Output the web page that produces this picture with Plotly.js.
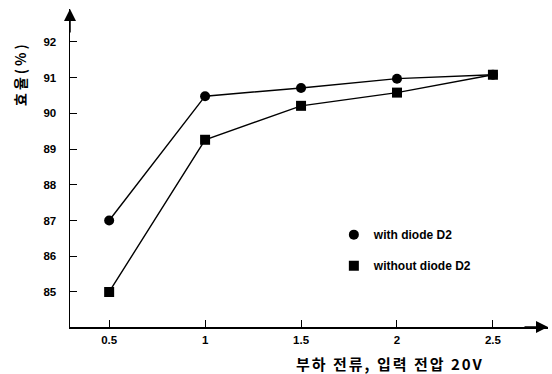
<!DOCTYPE html>
<html><head><meta charset="utf-8">
<script src="https://cdn.plot.ly/plotly-3.0.1.min.js"></script>
<style>body{margin:0;background:#fff}#c{width:552px;height:374px}</style>
</head><body><div id="c"></div>
<script>
const current = [0.5, 1, 1.5, 2, 2.5];
const withDiode = [87.0, 90.48, 90.71, 90.97, 91.08];
const withoutDiode = [85.0, 89.26, 90.21, 90.58, 91.08];
const yTicks = [85, 86, 87, 88, 89, 90, 91, 92];
const xTicks = [0.5, 1, 1.5, 2, 2.5];
const seriesNames = ['with diode D2', 'without diode D2'];
const xTitle = '부하 전류, 입력 전압 20V';
const yTitle = '효율(%)';

const tickFont = {family: 'Liberation Sans, Arial, sans-serif', size: 11.5, color: '#000', weight: 'bold'};
const legFont = {family: 'Liberation Sans, Arial, sans-serif', size: 12, color: '#000', weight: 'bold'};
const traces = [
  {x: current, y: withDiode, mode: 'lines', line: {color: '#000', width: 1.4}, showlegend: false, hoverinfo: 'skip'},
  {x: current, y: withoutDiode, mode: 'lines', line: {color: '#000', width: 1.4}, showlegend: false, hoverinfo: 'skip'},
  {x: current, y: withDiode, mode: 'markers', name: seriesNames[0], legendgroup: 'a',
   marker: {symbol: 'circle', size: 10, color: '#000'}},
  {x: current, y: withoutDiode, mode: 'markers', name: seriesNames[1], legendgroup: 'b',
   marker: {symbol: 'square', size: 10, color: '#000'}}
];
const layout = {
  width: 552, height: 374,
  margin: {l: 70, r: 4, t: 9, b: 47},
  paper_bgcolor: '#fff', plot_bgcolor: '#fff',
  showlegend: true,
  legend: {x: 0.552, y: 0.336, xanchor: 'left', yanchor: 'top', font: legFont, tracegroupgap: 12, bgcolor: 'rgba(0,0,0,0)'},
  xaxis: {range: [0.296, 2.787], tickvals: xTicks, ticktext: xTicks.map(String), ticks: 'inside', ticklen: 7,
          tickcolor: '#000', showgrid: false, zeroline: false, showline: true, linecolor: '#000', linewidth: 1.5,
          tickfont: tickFont, ticklabelstandoff: 2},
  yaxis: {range: [84.02, 92.92], tickvals: yTicks, ticks: 'inside', ticklen: 7,
          tickcolor: '#000', showgrid: false, zeroline: false, showline: true, linecolor: '#000', linewidth: 1.5,
          tickfont: tickFont, ticklabelstandoff: 10},
  annotations: [
    {xref: 'paper', yref: 'paper', x: 1, y: 0, ax: -25, ay: 0, showarrow: true, arrowhead: 2, arrowsize: 1.6, arrowwidth: 1.5, arrowcolor: '#000', text: ''},
    {xref: 'paper', yref: 'paper', x: 0, y: 1, ax: 0, ay: 25, showarrow: true, arrowhead: 2, arrowsize: 1.6, arrowwidth: 1.5, arrowcolor: '#000', text: ''},
    {xref: 'paper', yref: 'paper', x: (390 - 70) / 478, y: -(363 - 327) / 318, yanchor: 'middle', xanchor: 'center', showarrow: false,
     text: '<span style="letter-spacing:2px">' + xTitle + '</span>',
     font: {family: 'Noto Sans CJK KR, sans-serif', size: 15, color: '#000', weight: 'bold'}},
    {xref: 'paper', yref: 'paper', x: (20 - 70) / 478, y: (327 - 74) / 318, xanchor: 'center', yanchor: 'middle', showarrow: false, textangle: -90,
     text: '<span style="letter-spacing:3px">' + yTitle + '</span>',
     font: {family: 'Noto Sans CJK KR, sans-serif', size: 14, color: '#000', weight: 'bold'}}
  ]
};
Plotly.newPlot('c', traces, layout, {displayModeBar: false, staticPlot: true});
</script></body></html>
